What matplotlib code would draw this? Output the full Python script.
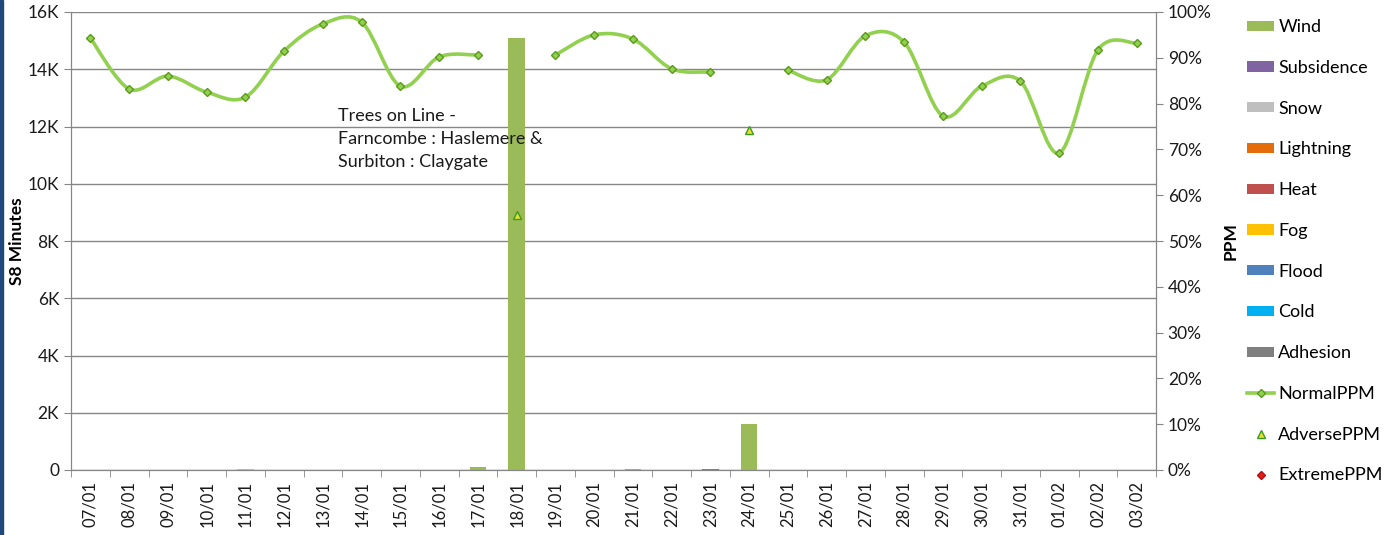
import numpy as np
import matplotlib
matplotlib.use("Agg")
from matplotlib import pyplot as plt
from matplotlib.path import Path
from matplotlib.patches import PathPatch, Patch, Rectangle
from matplotlib.lines import Line2D
from matplotlib.ticker import FuncFormatter, PercentFormatter

plt.rcParams['font.family'] = ['Lato', 'DejaVu Sans']

# data
dates = ['07/01', '08/01', '09/01', '10/01', '11/01', '12/01', '13/01', '14/01',
         '15/01', '16/01', '17/01', '18/01', '19/01', '20/01', '21/01', '22/01',
         '23/01', '24/01', '25/01', '26/01', '27/01', '28/01', '29/01', '30/01',
         '31/01', '01/02', '02/02', '03/02']

causes = ['Wind', 'Subsidence', 'Snow', 'Lightning', 'Heat', 'Fog', 'Flood', 'Cold', 'Adhesion']
cause_colors = ['#9BBB59', '#8064A2', '#BFBFBF', '#E46C0A', '#C0504D', '#FFC000',
                '#4F81BD', '#00B0F0', '#7F7F7F']

wind = [0, 0, 0, 0, 0, 0, 0, 0, 0, 0, 90, 15100, 0, 0, 40, 0, 0, 1600, 0, 0, 0, 0, 0, 0, 0, 0, 0, 0]
fog = [0, 0, 0, 0, 40, 0, 0, 0, 0, 0, 0, 0, 0, 0, 0, 0, 0, 0, 0, 0, 0, 0, 0, 0, 0, 0, 0, 0]
adhesion = [0, 0, 0, 0, 0, 0, 0, 0, 0, 0, 0, 0, 0, 0, 0, 0, 50, 0, 0, 0, 0, 0, 0, 0, 0, 0, 0, 0]
zeros = [0] * len(dates)
minutes = {'Wind': wind, 'Subsidence': zeros, 'Snow': zeros, 'Lightning': zeros,
           'Heat': zeros, 'Fog': fog, 'Flood': zeros, 'Cold': zeros, 'Adhesion': adhesion}

normal_ppm = [94.3, 83.2, 86.0, 82.5, 81.4, 91.5, 97.4, 97.8, 83.8, 90.2, 90.6, None,
              90.6, 95.0, 94.1, 87.6, 86.9, None, 87.3, 85.2, 94.8, 93.4, 77.3, 83.8,
              84.9, 69.2, 91.7, 93.2]
adverse_ppm = [None] * 11 + [55.7] + [None] * 5 + [74.2] + [None] * 10

line_green = '#92D050'
edge_green = '#5A9A1A'

fig = plt.figure(figsize=(13.92, 5.35), dpi=100)
ax = fig.add_axes([71 / 1392, 1 - 470 / 535, (1156 - 71) / 1392, (470 - 12) / 535])
x = np.arange(len(dates))

# stacked bars
bottom = np.zeros(len(dates))
for name, col in zip(causes, cause_colors):
    vals = np.array(minutes[name], dtype=float)
    ax.bar(x, vals, width=0.42, bottom=bottom, color=col, zorder=2)
    bottom += vals

ax.set_xlim(-0.5, len(dates) - 0.5)
ax.set_ylim(0, 16000)
ax.set_yticks(np.arange(0, 16001, 2000))
ax.yaxis.set_major_formatter(FuncFormatter(lambda v, p: '0' if v == 0 else f'{int(v / 1000)}K'))
ax.grid(axis='y', color='#868686', lw=1, zorder=0)
ax.set_xticks(x)
ax.set_xticklabels(dates, rotation=90, fontsize=12, color='#1a1a1a')
ax.set_xticks(np.arange(-0.5, len(dates), 1), minor=True)
ax.tick_params(axis='x', which='major', length=0, pad=8)
ax.tick_params(axis='x', which='minor', length=5, color='#868686', direction='out')
ax.tick_params(axis='y', length=5, color='#868686', labelsize=12.5, labelcolor='#1a1a1a')
ax.spines['top'].set_visible(False)
for side in ['left', 'right', 'bottom']:
    ax.spines[side].set_color('#868686')
ax.set_ylabel('S8 Minutes', fontsize=12.5, fontweight='bold', labelpad=2)

ax.text(6.38, 12650, 'Trees on Line -\nFarncombe : Haslemere &\nSurbiton : Claygate',
        fontsize=13, va='top', ha='left', linespacing=1.55, color='#1a1a1a', zorder=5)

# ppm on secondary axis
ax2 = ax.twinx()
ax2.set_ylim(0, 1)
ax2.set_yticks(np.arange(0, 1.01, 0.1))
ax2.yaxis.set_major_formatter(PercentFormatter(1.0, decimals=0))
ax2.tick_params(axis='y', length=5, color='#868686', labelsize=12.5, labelcolor='#1a1a1a')
ax2.spines['top'].set_visible(False)
for side in ['left', 'right', 'bottom']:
    ax2.spines[side].set_color('#868686')
ax2.set_ylabel('PPM', fontsize=12.5, fontweight='bold', labelpad=8)

# smoothed segments of the normal ppm line (bezier through the points)
segments, cur = [], []
for i, v in enumerate(normal_ppm):
    if v is None:
        if cur:
            segments.append(cur)
        cur = []
    else:
        cur.append((i, v / 100))
if cur:
    segments.append(cur)

for seg in segments:
    p = np.array(seg, dtype=float)
    verts, codes = [p[0]], [Path.MOVETO]
    for i in range(len(p) - 1):
        p0 = p[i - 1] if i > 0 else p[i]
        p3 = p[i + 2] if i + 2 < len(p) else p[i + 1]
        c1 = p[i] + (p[i + 1] - p0) / 6
        c2 = p[i + 1] - (p3 - p[i]) / 6
        verts += [c1, c2, p[i + 1]]
        codes += [Path.CURVE4] * 3
    ax2.add_patch(PathPatch(Path(verts, codes), fill=False, edgecolor=line_green,
                            lw=2.6, zorder=3, capstyle='round', joinstyle='round'))

nx = [i for i, v in enumerate(normal_ppm) if v is not None]
ny = [v / 100 for v in normal_ppm if v is not None]
ax2.plot(nx, ny, linestyle='none', marker='D', ms=4.5, mfc=line_green, mec=edge_green,
         mew=1, zorder=4)
ax_ = [i for i, v in enumerate(adverse_ppm) if v is not None]
ay = [v / 100 for v in adverse_ppm if v is not None]
ax2.plot(ax_, ay, linestyle='none', marker='^', ms=6, mfc='#E8E030', mec='#3C9A1E',
         mew=1, zorder=4)

# legend
handles = [Patch(facecolor=c, edgecolor='none') for c in cause_colors]
handles += [Line2D([], [], color=line_green, lw=2.6, marker='D', ms=4.5, mfc=line_green, mec=edge_green),
            Line2D([], [], linestyle='none', marker='^', ms=6, mfc='#E8E030', mec='#3C9A1E'),
            Line2D([], [], linestyle='none', marker='D', ms=4, mfc='#E0201A', mec='#B01010')]
labels = causes + ['NormalPPM', 'AdversePPM', 'ExtremePPM']
fig.legend(handles, labels, loc='upper left', bbox_to_anchor=(1240 / 1392, 1 - 12 / 535),
           frameon=False, fontsize=13, labelspacing=1.37, handlelength=1.5,
           handletextpad=0.22, handleheight=0.5, borderaxespad=0)

fig.patches.append(Rectangle((0, 0), 3 / 1392, 1, transform=fig.transFigure,
                             color='#1F497D', zorder=10))

fig.savefig('out.png', dpi=100)
